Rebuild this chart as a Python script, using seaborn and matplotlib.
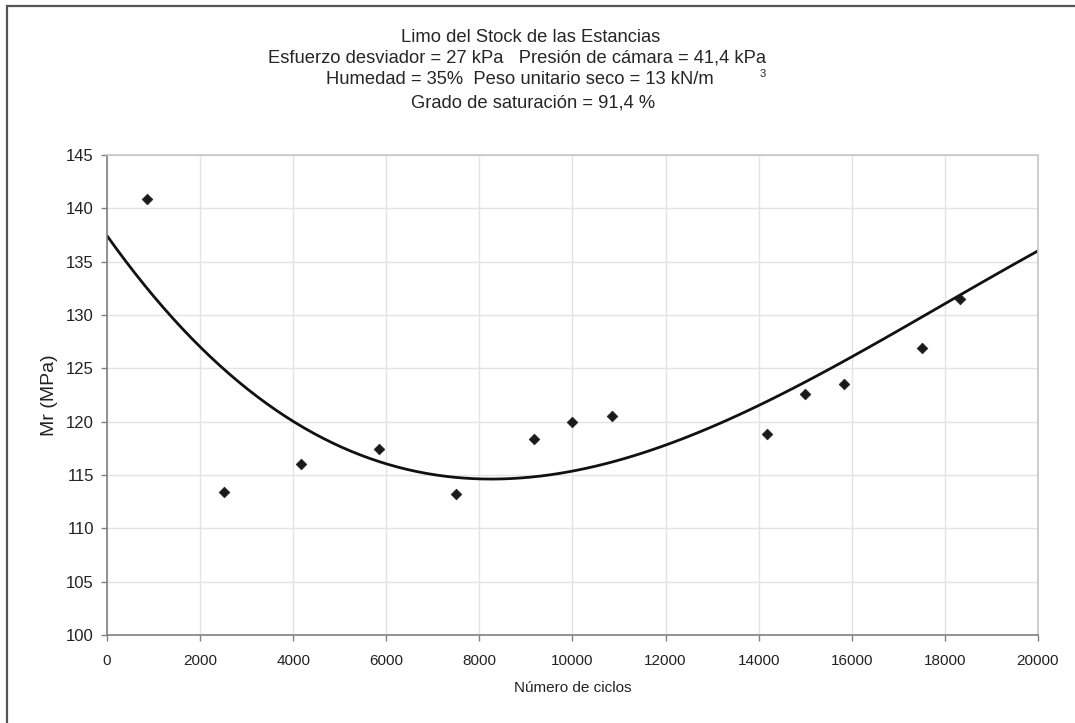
import numpy as np
import pandas as pd
import matplotlib
matplotlib.use("Agg")
import matplotlib.pyplot as plt
import seaborn as sns
from matplotlib.patches import Rectangle

ciclos = [850, 2510, 4170, 5840, 7500, 9170, 10000, 10840, 14170, 15000, 15840, 17500, 18330]
mr = [140.9, 113.4, 116.0, 117.4, 113.2, 118.4, 120.0, 120.5, 118.8, 122.6, 123.5, 126.9, 131.5]

# trend line at each x tick
curva_x = [0, 2000, 4000, 6000, 8000, 10000, 12000, 14000, 16000, 18000, 20000]
curva_y = [137.3, 127.4, 119.8, 116.0, 114.6, 115.4, 117.7, 121.9, 125.9, 130.9, 136.1]

x_ticks = list(range(0, 20001, 2000))
y_ticks = list(range(100, 146, 5))

df = pd.DataFrame({"ciclos": ciclos, "mr": mr})
tend = pd.DataFrame({"ciclos": curva_x, "mr": curva_y})

sns.set_theme(style="white")
plt.rcParams['font.family'] = ['Liberation Sans', 'DejaVu Sans']

fig = plt.figure(figsize=(10.75, 7.23), dpi=100)
ax = fig.add_axes([0.0995, 0.1217, 0.866, 0.6639])

ax.set_xlim(0, 20000)
ax.set_ylim(100, 145)

# smooth polynomial trend line (Excel style)
sns.regplot(data=tend, x="ciclos", y="mr", order=3, ci=None, truncate=False,
            scatter=False, ax=ax, line_kws={"color": "#111111", "lw": 2.0})
sns.scatterplot(data=df, x="ciclos", y="mr", marker="D", s=30, color="#1a1a1a",
                edgecolor="#1a1a1a", ax=ax, zorder=5)

ax.set_xlim(0, 20000)
ax.set_ylim(100, 145)
ax.set_xticks(x_ticks)
ax.set_yticks(y_ticks)
ax.grid(True, color="#e3e3e3", lw=1)
ax.set_axisbelow(True)
for s in ["top", "right"]:
    ax.spines[s].set_color("#c8c8c8")
for s in ["left", "bottom"]:
    ax.spines[s].set_color("#808080")
    ax.spines[s].set_linewidth(1.2)
ax.tick_params(axis="both", colors="#222222", length=4, width=1,
               direction="out", left=True, bottom=True, color="#808080")
ax.tick_params(axis="x", labelsize=11, pad=10)
ax.tick_params(axis="y", labelsize=12, pad=5.5)
ax.set_xlabel("Número de ciclos", fontsize=11, color="#222222", labelpad=9)
ax.set_ylabel("Mr (MPa)", fontsize=14, color="#222222", labelpad=6)

# title block
fs = 13.2
fig.text(531 / 1075, 1 - 37 / 723, "Limo del Stock de las Estancias", ha="center", va="center", fontsize=fs)
fig.text(517 / 1075, 1 - 58 / 723, "Esfuerzo desviador = 27 kPa   Presión de cámara = 41,4 kPa",
         ha="center", va="center", fontsize=fs)
fig.text(520 / 1075, 1 - 80 / 723, "Humedad = 35%  Peso unitario seco = 13 kN/m", ha="center", va="center", fontsize=fs)
fig.text(763 / 1075, 1 - 74 / 723, "3", ha="center", va="center", fontsize=8)
fig.text(533 / 1075, 1 - 103 / 723, "Grado de saturación = 91,4 %", ha="center", va="center", fontsize=fs)

# outer frame
fig.patches.append(Rectangle((7 / 1075, -0.05), 1.1, 1 - 6 / 723 + 0.05, transform=fig.transFigure,
                             fill=False, edgecolor="#555555", lw=1.6))

fig.savefig("out.png", dpi=100)
